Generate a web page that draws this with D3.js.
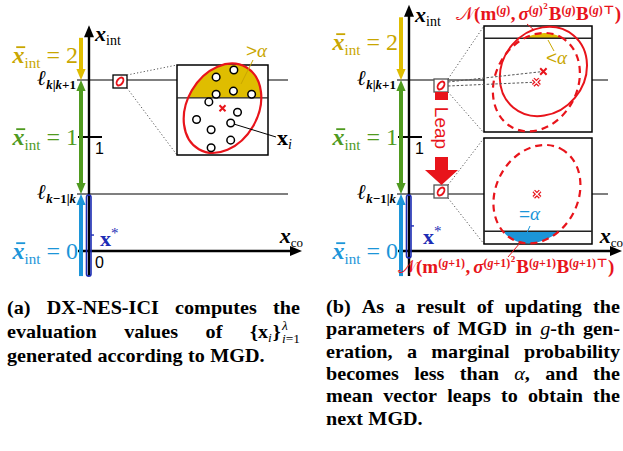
<!DOCTYPE html>
<html>
<head>
<meta charset="utf-8">
<script src="https://cdn.jsdelivr.net/npm/d3@7"></script>
<style>body{margin:0;background:#fff}</style>
</head>
<body>
<svg id="fig" width="623" height="451"></svg>
<script>
// ---- values ----
const intLevels = [0, 1, 2];                        // x̄_int of each level
const thresholds = [0.5, 1.5];                      // ℓ_{k-1|k}, ℓ_{k|k+1}
const thresholdSubs = [["k", "\u22121|", "k"], ["k", "|", "k", "+1"]];
const tickValues = [0, 1];
const levelSpansA = [[-0.22, 0.5], [0.5, 1.5], [1.5, 1.87]];
const levelSpansB = [[-0.22, 0.5], [0.5, 1.5], [1.5, 2.05]];
const axisTops = [1.98, 2.16];
const xStarSpan = [[-0.22, 0.5], [-0.06, 0.5]];

// inset (a): samples x_i in normalised inset coords
const samplesA = [[0.25, 0.89], [-0.14, 0.73], [0.24, 0.42], [-0.14, 0.35], [0.64, 0.35],
  [-0.30, 0.18], [0.33, -0.05], [-0.57, -0.21], [0.18, -0.29], [-0.25, -0.44],
  [0.18, -0.67], [-0.25, -0.84]];
const ellipseA = { cx: 0, cy: 0.04, a: 1.04, b: 0.78, ang: 60 };
const thrA = 0.27;
// inset (b): MGD before / after the leap
const ellipseG = { cx: 0.10, cy: 0.15, a: 0.87, b: 0.76, ang: 50 };
const ellipseG1 = { cx: -0.03, cy: -0.05, a: 0.95, b: 0.76, ang: 62 };
const ellipseG1Leap = { cx: -0.02, cy: -0.06, a: 0.95, b: 0.76, ang: 62 };
const thrBUp = 0.77, thrBLow = -0.76;

const captionA = [
  ["(a)", "DX-NES-ICI", "computes", "the"],
  ["evaluation", "values", "of", "SET"],
  ["generated", "according", "to", "MGD."]
];
const captionB = [
  ["(b)", "As", "a", "result", "of", "updating", "the"],
  ["parameters", "of", "MGD", "in", "GTH", "gen-"],
  ["eration,", "a", "marginal", "probability"],
  ["becomes", "less", "than", "ALPHA", "and", "the"],
  ["mean", "vector", "leaps", "to", "obtain", "the"],
  ["next", "MGD."]
];

// ---- styles ----
const SERIF = "'Liberation Serif','DejaVu Serif',serif";
const SANS = "'Liberation Sans','DejaVu Sans',sans-serif";
const RED = "#e8141b", GOLD = "#dfbd00", GOLDTXT = "#c9a600", GREEN = "#4f9a1f",
  BLUE = "#1c95d8", NAVY = "#1d2db5", GRAY = "#555";

const svg = d3.select("#fig");
const defs = svg.append("defs");
const yInt = d3.scaleLinear().domain([0, 1]).range([251, 137]);

function rich(parent, runs, x, y, o = {}) {
  const size = o.size || 16, fam = o.family || SERIF, fill = o.fill || "#000";
  const g = parent.append("g");
  let cx = 0, stack = null;
  runs.forEach(r => {
    if (r.gap) cx += r.gap;
    const fs = r.size || size, col = r.fill || fill;
    const t = g.append("text").attr("x", cx).attr("y", r.dy || 0)
      .attr("font-family", r.family || fam).attr("font-size", fs)
      .attr("font-weight", (r.bold ?? o.bold) ? "bold" : "normal")
      .attr("font-style", r.italic ? "italic" : "normal")
      .attr("fill", col).text(r.t);
    const w = t.node().getComputedTextLength();
    if (r.bar) g.append("line").attr("x1", cx + w * 0.3).attr("x2", cx + w * 1.05)
      .attr("y1", (r.dy || 0) - fs * 0.66).attr("y2", (r.dy || 0) - fs * 0.66)
      .attr("stroke", col).attr("stroke-width", fs * 0.075);
    if (r.stack) { stack = { x: cx, w }; return; }
    cx += w + (r.kern || 0);
    if (r.endStack && stack) { cx = Math.max(cx, stack.x + stack.w); stack = null; }
  });
  const x0 = o.anchor === "end" ? x - cx : o.anchor === "middle" ? x - cx / 2 : x;
  g.attr("transform", `translate(${x0},${y})`);
  return { g, width: cx };
}

function vArrow(x, yTop, yBot, col, up, down) {
  const hw = 4.6, hl = 11;
  svg.append("line").attr("x1", x).attr("x2", x)
    .attr("y1", yTop + (up ? hl - 1 : 0)).attr("y2", yBot - (down ? hl - 1 : 0))
    .attr("stroke", col).attr("stroke-width", 4);
  if (up) svg.append("path").attr("d", `M${x},${yTop}L${x - hw},${yTop + hl}L${x + hw},${yTop + hl}Z`).attr("fill", col);
  if (down) svg.append("path").attr("d", `M${x},${yBot}L${x - hw},${yBot - hl}L${x + hw},${yBot - hl}Z`).attr("fill", col);
}

// clip (optional) is applied on a wrapping group so the rotation does not move it
function ellipse(parent, sx, sy, e, clip) {
  const cx = sx(e.cx), cy = sy(e.cy), k = sx(1) - sx(0);
  const g = parent.append("g");
  if (clip) g.attr("clip-path", clip);
  return g.append("ellipse").attr("cx", cx).attr("cy", cy)
    .attr("rx", e.a * k).attr("ry", e.b * k)
    .attr("transform", `rotate(${-e.ang},${cx},${cy})`);
}

function cross(x, y, s, dbl) {
  const d = `M${x - s},${y - s}L${x + s},${y + s}M${x - s},${y + s}L${x + s},${y - s}`;
  svg.append("path").attr("d", d).attr("stroke", RED).attr("stroke-width", dbl ? 3.6 : 2).attr("fill", "none");
  if (dbl) svg.append("path").attr("d", d).attr("stroke", "#fff").attr("stroke-width", 1.2).attr("fill", "none");
}

function clipRect(id, x, y, w, h) {
  defs.append("clipPath").attr("id", id).append("rect").attr("x", x).attr("y", y).attr("width", w).attr("height", h);
  return `url(#${id})`;
}

function dotted(x1, y1, x2, y2, dash) {
  svg.append("line").attr("x1", x1).attr("y1", y1).attr("x2", x2).attr("y2", y2)
    .attr("stroke", GRAY).attr("stroke-width", 1).attr("stroke-dasharray", dash || "1.2,2.2");
}

function miniBox(x, y, col) {
  svg.append("rect").attr("x", x).attr("y", y).attr("width", 14).attr("height", 13)
    .attr("fill", "#fff").attr("stroke", col).attr("stroke-width", 1.3);
  svg.append("ellipse").attr("cx", x + 7).attr("cy", y + 6.5).attr("rx", 4.4).attr("ry", 2.8)
    .attr("transform", `rotate(-55,${x + 7},${y + 6.5})`)
    .attr("fill", "none").attr("stroke", RED).attr("stroke-width", 1.9);
}

// ---- the two panels: axes, levels, thresholds ----
const levelColors = [BLUE, GREEN, GOLD];
const levelText = [BLUE, GREEN, GOLDTXT];
const panels = [
  { ox: 0, spans: levelSpansA, top: axisTops[0], twoY: 63, labY: 41, coEnd: 302 },
  { ox: 320, spans: levelSpansB, top: axisTops[1], twoY: 50, labY: 22, coEnd: 622 }
];

panels.forEach((p, pi) => {
  const ax = 89 + p.ox, arX = 81 + p.ox;
  // thresholds ℓ
  thresholds.forEach((t, i) => {
    svg.append("line").attr("x1", 77 + p.ox).attr("x2", 288 + p.ox)
      .attr("y1", yInt(t)).attr("y2", yInt(t)).attr("stroke", GRAY).attr("stroke-width", 1.4);
    const sub = thresholdSubs[i].map(s => ({ t: s, size: 13, dy: 4, italic: s === "k" }));
    rich(svg, [{ t: "\u2113", italic: true, size: 21 }].concat(sub), 76 + p.ox, yInt(t) + 5,
      { anchor: "end", bold: true });
  });
  // x_co axis
  svg.append("line").attr("x1", 78 + p.ox).attr("x2", p.coEnd - 8)
    .attr("y1", yInt(0)).attr("y2", yInt(0)).attr("stroke", "#000").attr("stroke-width", 2.4);
  svg.append("path").attr("d", `M${p.coEnd},${yInt(0)}l-12,-5l0,10z`).attr("fill", "#000");
  rich(svg, [{ t: "x", bold: true, italic: true }, { t: "co", size: 13, dy: 4 }], p.coEnd + 1, yInt(0) - 8,
    { anchor: "end", size: 22 });
  // x_int axis
  svg.append("line").attr("x1", ax).attr("x2", ax).attr("y1", yInt(-0.22)).attr("y2", yInt(p.top) + 8)
    .attr("stroke", "#000").attr("stroke-width", 2.4);
  svg.append("path").attr("d", `M${ax},${yInt(p.top)}l-5,12l10,0z`).attr("fill", "#000");
  rich(svg, [{ t: "x", bold: true, italic: true }, { t: "int", size: 14, dy: 4 }], ax + 6, p.labY, { size: 22 });
  // tick 1
  svg.append("line").attr("x1", ax - 11).attr("x2", ax + 13).attr("y1", yInt(1)).attr("y2", yInt(1))
    .attr("stroke", "#000").attr("stroke-width", 2);
  tickValues.forEach(v => {
    if (pi === 1 && v === 0) return;
    svg.append("text").attr("x", ax + 6).attr("y", yInt(v) + 17)
      .attr("font-family", SANS).attr("font-size", 16).text(v);
  });
  // level arrows and labels
  p.spans.forEach((s, i) => {
    vArrow(arX, yInt(s[1]), yInt(s[0]), levelColors[i], i < 2, i > 0);
    const ly = i === 2 ? p.twoY : yInt(intLevels[i]) + 8;
    rich(svg, [{ t: "x", bold: true, italic: true, bar: true }, { t: "int", size: 15, dy: 5 },
      { t: "\u00a0=\u00a0" + intLevels[i] }], arX - 3, ly, { anchor: "end", size: 24, fill: levelText[i] });
  });
  // x* bracket
  const bs = xStarSpan[pi];
  svg.append("rect").attr("x", ax - 2.5).attr("y", yInt(bs[1]) + 1).attr("width", 4.5)
    .attr("height", yInt(bs[0]) - yInt(bs[1]) - 1).attr("rx", 2.2)
    .attr("fill", "none").attr("stroke", NAVY).attr("stroke-width", 1.6);
  const mid = (yInt(bs[0]) + yInt(bs[1])) / 2;
  svg.append("line").attr("x1", ax + 2).attr("x2", ax + 5).attr("y1", mid).attr("y2", mid)
    .attr("stroke", NAVY).attr("stroke-width", 1.4);
  rich(svg, [{ t: "x", bold: true }, { t: "*", size: 15, dy: -8 }], ax + 11 + (pi ? 3 : 0), pi ? 244 : 246,
    { size: 22, fill: NAVY });
});

// ---- inset (a) ----
const sxA = d3.scaleLinear().domain([-1, 1]).range([177, 268]);
const syA = d3.scaleLinear().domain([-1, 1]).range([155, 65]);
miniBox(113, 75, "#000");
dotted(127, 75, 177, 65);
dotted(127, 88, 177, 155);
svg.append("rect").attr("x", 177).attr("y", 65).attr("width", 91).attr("height", 90)
  .attr("fill", "#fff").attr("stroke", "#000").attr("stroke-width", 1.5);
ellipse(svg, sxA, syA, ellipseA, clipRect("cA", 177, 65, 91, syA(thrA) - 65)).attr("fill", GOLD);
svg.append("line").attr("x1", 177).attr("x2", 268).attr("y1", syA(thrA)).attr("y2", syA(thrA))
  .attr("stroke", "#222").attr("stroke-width", 1.4);
ellipse(svg, sxA, syA, ellipseA).attr("fill", "none").attr("stroke", RED).attr("stroke-width", 2.2);
cross(sxA(ellipseA.cx), syA(ellipseA.cy), 3, false);
svg.append("line").attr("x1", sxA(samplesA[8][0])).attr("y1", syA(samplesA[8][1]))
  .attr("x2", 276).attr("y2", 137).attr("stroke", "#000").attr("stroke-width", 1);
svg.selectAll("circle.xi").data(samplesA).join("circle").attr("class", "xi")
  .attr("cx", d => sxA(d[0])).attr("cy", d => syA(d[1])).attr("r", 3.8)
  .attr("fill", "#fff").attr("stroke", "#000").attr("stroke-width", 1.5);
svg.append("line").attr("x1", 253).attr("y1", 60).attr("x2", 241).attr("y2", 84)
  .attr("stroke", GOLDTXT).attr("stroke-width", 1);
rich(svg, [{ t: ">", family: SANS }, { t: "\u03b1", italic: true }], 246, 57, { size: 19, fill: GOLDTXT });
rich(svg, [{ t: "x", bold: true }, { t: "i", italic: true, size: 14, dy: 4 }], 277, 145, { size: 22 });

// ---- inset (b): g-th MGD (upper) and the MGD after the leap (lower) ----
const sxB = d3.scaleLinear().domain([-1, 1]).range([484, 592]);
const syB1 = d3.scaleLinear().domain([-1, 1]).range([133, 26]);
const syB2 = d3.scaleLinear().domain([-1, 1]).range([244, 138]);
dotted(448, 79, 484, 26);
dotted(448, 92, 484, 133);
dotted(448, 185, 484, 138);
dotted(448, 198, 484, 244);
[26, 138].forEach(y0 => {
  svg.append("rect").attr("x", 484).attr("y", y0).attr("width", 108).attr("height", 106)
    .attr("fill", "#fff").attr("stroke", "#000").attr("stroke-width", 1.5);
});
ellipse(svg, sxB, syB1, ellipseG1, clipRect("cB1", 484, 26, 108, syB1(thrBUp) - 26)).attr("fill", GOLD);
ellipse(svg, sxB, syB2, ellipseG1Leap, clipRect("cB2", 484, syB2(thrBLow), 108, 244 - syB2(thrBLow)))
  .attr("fill", BLUE);
svg.append("line").attr("x1", 484).attr("x2", 592).attr("y1", syB1(thrBUp)).attr("y2", syB1(thrBUp))
  .attr("stroke", "#222").attr("stroke-width", 1.4);
svg.append("line").attr("x1", 484).attr("x2", 592).attr("y1", syB2(thrBLow)).attr("y2", syB2(thrBLow))
  .attr("stroke", "#222").attr("stroke-width", 1.4);
ellipse(svg, sxB, syB1, ellipseG).attr("fill", "none").attr("stroke", RED).attr("stroke-width", 2);
ellipse(svg, sxB, syB1, ellipseG1).attr("fill", "none").attr("stroke", RED).attr("stroke-width", 2.2)
  .attr("stroke-dasharray", "7,5");
ellipse(svg, sxB, syB2, ellipseG1Leap).attr("fill", "none").attr("stroke", RED).attr("stroke-width", 2.2)
  .attr("stroke-dasharray", "7,5");

// small boxes and leap arrow
miniBox(434, 79, GRAY);
miniBox(434, 185, GRAY);
dotted(448, 82, sxB(ellipseG.cx), syB1(ellipseG.cy), "2.5,1.8");
dotted(448, 86, sxB(ellipseG1.cx), syB1(ellipseG1.cy), "2.5,1.8");
cross(sxB(ellipseG.cx), syB1(ellipseG.cy), 3.2, false);
cross(sxB(ellipseG1.cx), syB1(ellipseG1.cy), 3.2, true);
cross(sxB(ellipseG1Leap.cx), syB2(ellipseG1Leap.cy), 3.2, true);
svg.append("rect").attr("x", 435).attr("y", 92).attr("width", 13).attr("height", 8).attr("fill", RED);
svg.append("text").attr("transform", "translate(435,128) rotate(90)").attr("text-anchor", "middle")
  .attr("font-family", SANS).attr("font-size", 19).attr("fill", RED).text("Leap");
svg.append("path").attr("d", "M435,157L448,157L448,170L458,170L441.5,185L425,170L435,170Z").attr("fill", RED);

// labels in (b)
svg.append("line").attr("x1", 548).attr("y1", 40).attr("x2", 554).attr("y2", 51)
  .attr("stroke", GOLDTXT).attr("stroke-width", 1);
rich(svg, [{ t: "<", family: SANS }, { t: "\u03b1", italic: true }], 546, 64, { size: 19, fill: GOLDTXT });
svg.append("line").attr("x1", 530).attr("y1", 226).attr("x2", 525).attr("y2", 237)
  .attr("stroke", BLUE).attr("stroke-width", 1);
rich(svg, [{ t: "=", family: SANS }, { t: "\u03b1", italic: true }], 519, 220, { size: 19, fill: BLUE });

function mgdRuns(gen) {
  const ss = 12;
  const sup = s => [{ t: "(", size: ss, dy: -6.5 }, { t: "g", size: ss, dy: -6.5, italic: true }]
    .concat(gen ? [{ t: "+1", size: ss, dy: -6.5 }] : []).concat([{ t: ")", size: ss, dy: -6.5, kern: 0.5 }])
    .concat(s ? [{ t: s, size: ss, dy: -6.5 }] : []);
  return [{ t: "\ud835\udca9", size: 19, bold: false }, { t: "(" }, { t: "m", bold: true }].concat(sup(""))
    .concat([{ t: ",", kern: 3 }, { t: "\u03c3", italic: true }]).concat(sup(""))
    .concat([{ t: "2", size: 9, dy: -11, kern: 1 }, { t: "B", bold: true }]).concat(sup(""))
    .concat([{ t: "B", bold: true }]).concat(sup("\u22a4")).concat([{ t: ")" }]);
}
svg.append("line").attr("x1", 527).attr("y1", 24).attr("x2", 534).attr("y2", 30)
  .attr("stroke", RED).attr("stroke-width", 1);
rich(svg, mgdRuns(false), 621, 20, { size: 19, fill: RED, bold: true, anchor: "end" });
svg.append("line").attr("x1", 508).attr("y1", 257).attr("x2", 520).attr("y2", 243)
  .attr("stroke", RED).attr("stroke-width", 1);
rich(svg, mgdRuns(true), 398, 273, { size: 19, fill: RED, bold: true });

// ---- captions ----
const special = {
  SET: [{ t: "{" }, { t: "x" }, { t: "i", italic: true, bold: false, size: 12, dy: 4, kern: 1 }, { t: "}", kern: 1 },
    { t: "\u03bb", italic: true, bold: false, size: 12, dy: -8, stack: true },
    { t: "i", italic: true, bold: false, size: 12, dy: 5 }, { t: "=1", bold: false, size: 12, dy: 5, endStack: true }],
  GTH: [{ t: "g", italic: true, bold: false }, { t: "-th" }],
  ALPHA: [{ t: "\u03b1", italic: true, bold: false }, { t: "," }]
};
const stretch = 1.12;   // Libertine is wider than Liberation Serif
function justify(lines, x0, x1, y0, lh, size) {
  lines.forEach((words, i) => {
    const y = y0 + i * lh;
    const items = words.map(w => rich(svg, special[w] || [{ t: w }], 0, y, { size, bold: true }));
    const total = d3.sum(items, d => d.width) * stretch;
    const last = i === lines.length - 1;
    const gap = last ? size * 0.3 : (x1 - x0 - total) / (items.length - 1);
    let cx = x0;
    items.forEach(it => {
      it.g.attr("transform", `translate(${cx},${y}) scale(${stretch},1)`);
      cx += it.width * stretch + gap;
    });
  });
}
justify(captionA, 7, 300, 314, 24, 18);
justify(captionB, 326, 620, 313, 22.3, 18);
</script>
</body>
</html>
